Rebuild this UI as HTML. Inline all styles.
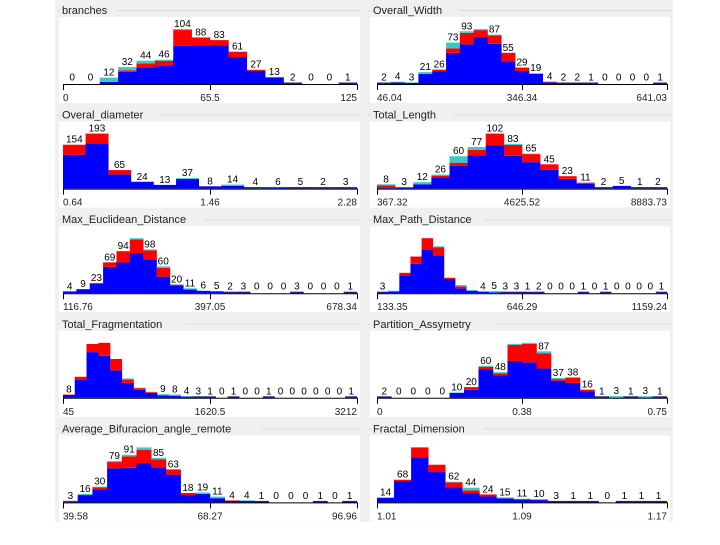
<!DOCTYPE html>
<html><head><meta charset="utf-8">
<style>
body{margin:0;width:720px;height:540px;background:#fff;overflow:hidden;font-family:"Liberation Sans",sans-serif}
svg text{font-family:"Liberation Sans",sans-serif}
</style></head>
<body>
<svg id="c" width="720" height="540"></svg>
<script>
const titles = ["branches","Overall_Width","Overal_diameter","Total_Length","Max_Euclidean_Distance","Max_Path_Distance","Total_Fragmentation","Partition_Assymetry","Average_Bifuracion_angle_remote","Fractal_Dimension"];
const ticks = [["0","65.5","125"],["46.04","346.34","641.03"],["0.64","1.46","2.28"],["367.32","4625.52","8883.73"],["116.76","397.05","678.34"],["133.35","646.29","1159.24"],["45","1620.5","3212"],["0","0.38","0.75"],["39.58","68.27","96.96"],["1.01","1.09","1.17"]];
const counts0 = [0,0,12,32,44,46,104,88,83,61,27,13,2,0,0,1];
const red0 = [0,0,0,3,8,10,30,15,10,10,2,1,0,0,0,0];
const teal0 = [0,0,8,6,5,2,2,0,0,0,0,0,0,0,0,0];
const counts1 = [2,4,3,21,26,73,93,97,87,55,29,19,4,2,2,1,0,0,0,0,1];
const red1 = [1,0,0,0,3,8,20,12,15,15,6,0,1,0,0,0,0,0,0,0,0];
const teal1 = [0,1,1,3,1,10,3,2,1,0,0,1,0,0,0,0,0,0,0,0,0];
const counts2 = [154,193,65,24,13,37,8,14,4,6,5,2,3];
const red2 = [35,35,15,0,0,0,0,0,0,0,0,0,0];
const teal2 = [0,0,0,0,0,3,0,4,4,1,1,0,1];
const counts3 = [8,3,12,26,60,77,102,83,65,45,23,11,2,5,1,2];
const red3 = [5,0,0,3,6,10,22,20,15,10,5,2,0,0,0,0];
const teal3 = [2,1,4,2,12,5,0,2,1,0,0,0,0,0,1,0];
const counts4 = [4,9,23,69,94,123,98,60,20,11,6,5,2,3,0,0,0,3,0,0,0,1];
const red4 = [0,0,2,10,25,30,20,20,2,1,0,0,0,0,0,0,0,0,0,0,0,0];
const teal4 = [0,0,0,0,0,3,2,3,1,2,1,1,0,0,0,0,0,1,0,0,0,0];
const counts5 = [3,6,50,90,135,115,38,20,8,4,5,3,3,1,2,0,0,0,1,0,1,0,0,0,0,1];
const red5 = [0,0,6,18,28,20,3,5,0,0,0,0,0,0,0,0,0,0,0,0,0,0,0,0,0,0];
const teal5 = [0,2,0,0,0,2,0,3,2,0,3,1,1,0,0,0,0,0,0,0,0,0,0,0,0,0];
const counts6 = [8,52,133,136,96,48,25,15,9,8,4,3,1,0,1,0,0,1,0,0,0,0,0,0,1];
const red6 = [1,8,20,32,28,8,4,2,0,0,0,0,0,0,0,0,0,0,0,0,0,0,0,0,0];
const teal6 = [0,0,0,0,0,3,1,1,3,3,1,1,0,0,0,0,0,0,0,0,0,0,0,0,0];
const counts7 = [2,0,0,0,0,10,20,60,48,101,103,87,37,38,16,1,3,1,3,1];
const red7 = [1,0,0,0,0,0,5,5,4,30,35,28,3,10,3,0,1,0,0,0];
const teal7 = [0,0,0,0,0,1,0,2,2,2,2,4,2,0,1,0,2,0,2,0];
const counts8 = [3,16,30,79,91,105,85,63,18,19,11,4,4,1,0,0,0,1,0,1];
const red8 = [1,0,4,12,22,25,15,10,4,0,0,1,0,0,0,0,0,0,0,0];
const teal8 = [0,2,1,2,3,5,3,0,0,3,3,0,1,0,0,0,0,0,0,0];
const counts9 = [14,68,165,113,62,44,24,15,11,10,3,1,1,0,1,1,1];
const red9 = [0,4,30,22,15,8,6,0,0,0,0,0,0,0,0,0,0];
const teal9 = [0,0,0,0,2,8,0,3,2,3,0,0,0,0,0,0,0];
const hidden = [[],[7],[],[],[5],[1,2,3,4,5,6,7,8],[1,2,3,4,5,6,7],[9,10],[5],[2,3]];
const allCounts=[counts0,counts1,counts2,counts3,counts4,counts5,counts6,counts7,counts8,counts9];
const allRed=[red0,red1,red2,red3,red4,red5,red6,red7,red8,red9];
const allTeal=[teal0,teal1,teal2,teal3,teal4,teal5,teal6,teal7,teal8,teal9];

const svg=document.getElementById('c');
const NS='http://www.w3.org/2000/svg';
function mk(t,a,p){const e=document.createElementNS(NS,t);for(const k in a)e.setAttribute(k,a[k]);(p||svg).appendChild(e);return e;}
mk('rect',{x:55,y:0,width:618,height:522,fill:'#f0f0f0'});
for(let i=0;i<10;i++){
  const col=i%2,row=Math.floor(i/2);
  const oy=row*104.6;
  const px=col?368:57, pw=col?304:305;
  const x0=col?377:63, x1=col?667:357;
  const base=oy+84, H=55;
  const g=mk('g',{});
  
  
  mk('line',{x1:px,y1:oy+10.5,x2:px+pw,y2:oy+10.5,stroke:'#dcdcdc'},g);
  const bg=mk('rect',{x:px+2,y:oy+17,width:pw-4,height:86,fill:'#fff'},g);
  
  
  const tb=mk('rect',{x:px+3,y:oy+4,width:titles[i].length*6.3+6,height:12,fill:'#f0f0f0'},g);
  
  
  const tt=mk('text',{x:px+5,y:oy+14,'font-size':'11',fill:'#222'},g);
  tt.textContent=titles[i];
  
  
  const c=allCounts[i],r=allRed[i],t=allTeal[i];
  const n=c.length,bw=(x1-x0)/n,mx=Math.max(...c);
  const sy=v=>v/mx*H;
  for(let b=0;b<n;b++){
    const bx=x0+b*bw;
    const blue=Math.max(0,c[b]-r[b]-t[b]);
    let y=base;
    const segs=[[blue,'#0000ff'],[r[b],'#ff0000'],[t[b],'#3cc8c8']];
    if(c[b]>0){
      for(const [v,col2] of segs){ if(v<=0)continue; const h=sy(v);
        const rr=mk('rect',{x:bx,y:y-h,width:bw+0.3,height:h,fill:col2},g);
        
        
        y-=h;}
      if(sy(c[b])<1.5){const rr=mk('rect',{x:bx,y:base-1.5,width:bw,height:1.5,fill:'#20208a'},g);
        
        }
    }
    if(!hidden[i].includes(b)){
      const lt=mk('text',{x:bx+bw/2,y:base-Math.max(sy(c[b]),1.5)-2,'font-size':'10','text-anchor':'middle',fill:'#000'},g);
      lt.textContent=c[b];
      
      
    }
  }
  mk('line',{x1:x0,y1:base+0.5,x2:x1,y2:base+0.5,stroke:'#000'},g);
  [x0,(x0+x1)/2,x1].forEach((tx,k)=>{
    mk('line',{x1:tx+0.5,y1:base,x2:tx+0.5,y2:base+6,stroke:'#000'},g);
    const tl=mk('text',{x:tx,y:oy+101,'font-size':'10','text-anchor':k==0?'start':k==1?'middle':'end',fill:'#222'},g);
    tl.textContent=ticks[i][k];
    
    
  });
}
</script>
</body></html>
